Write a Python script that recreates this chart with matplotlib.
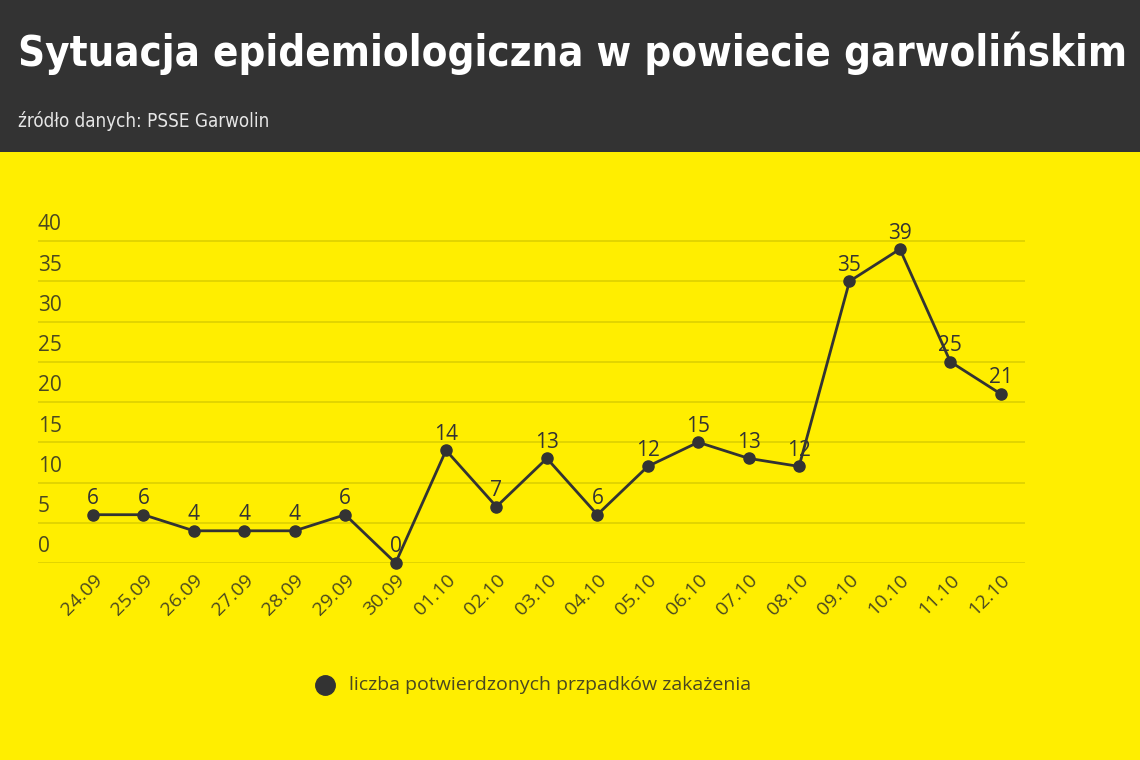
import matplotlib
matplotlib.use("Agg")
import matplotlib.pyplot as plt
from matplotlib.patches import Rectangle

# data
dates = ['24.09', '25.09', '26.09', '27.09', '28.09', '29.09', '30.09', '01.10', '02.10',
         '03.10', '04.10', '05.10', '06.10', '07.10', '08.10', '09.10', '10.10', '11.10', '12.10']
cases = [6, 6, 4, 4, 4, 6, 0, 14, 7, 13, 6, 12, 15, 13, 12, 35, 39, 25, 21]
y_ticks = [0, 5, 10, 15, 20, 25, 30, 35, 40]
title = 'Sytuacja epidemiologiczna w powiecie garwolińskim'
subtitle = 'źródło danych: PSSE Garwolin'
legend_label = 'liczba potwierdzonych przpadków zakażenia'

yellow = '#ffee00'
dark = '#333333'
txt = '#4a4820'
W, H = 1140, 760

fig = plt.figure(figsize=(11.4, 7.6), dpi=100)
fig.patch.set_facecolor(yellow)

# dark header band
fig.patches.append(Rectangle((0, 1 - 152 / H), 1, 152 / H, transform=fig.transFigure,
                             facecolor=dark, edgecolor='none', zorder=0))
t = fig.text(18 / W, 1 - 66 / H, title, color='white', fontsize=40, fontweight='bold',
             family='DejaVu Sans', fontstretch='condensed', va='baseline', ha='left')
# shrink the title until it fits the width of the reference header
fig.canvas.draw()
w = t.get_window_extent().width
if w > 1107:
    t.set_fontsize(40 * 1107 / w)
fig.text(18 / W, 1 - 127 / H, subtitle, color='#e6e6e6', fontsize=13.5,
         family='DejaVu Sans', fontstretch='condensed', va='baseline', ha='left')

# axes: left 38px, right 1025px, bottom 563px, top 235px
ax = fig.add_axes([38 / W, 1 - 563 / H, (1025 - 38) / W, (563 - 235) / H])
ax.set_facecolor('none')
x = list(range(len(dates)))
ax.set_xlim(-1.09, len(dates) - 1 + 0.48)
ax.set_ylim(0, 40.75)

for v in y_ticks:
    ax.axhline(v, color='#ddd000', lw=1.2, zorder=1)
    ax.annotate(str(v), xy=(0, v), xycoords=('axes fraction', 'data'),
                xytext=(0, 4), textcoords='offset points', ha='left', va='bottom',
                fontsize=15, color=txt, family='Open Sans')

ax.plot(x, cases, color=dark, lw=2, marker='o', markersize=8, zorder=3, clip_on=False)
for xi, v in zip(x, cases):
    ax.annotate(str(v), xy=(xi, v), xytext=(0, 4), textcoords='offset points',
                ha='center', va='bottom', fontsize=15, color=dark, family='Open Sans', zorder=4)

ax.set_xticks(x)
ax.set_xticklabels(dates, rotation=45, ha='right', rotation_mode='anchor',
                   fontsize=14, color=txt, family='Open Sans')
ax.tick_params(axis='x', length=0, pad=6)
ax.set_yticks([])
for s in ax.spines.values():
    s.set_visible(False)

# legend
fig.lines.append(plt.Line2D([325 / W], [1 - 685 / H], transform=fig.transFigure,
                            marker='o', markersize=14, color=dark, linestyle='none'))
fig.text(349 / W, 1 - 685 / H, legend_label, fontsize=14, color=txt,
         family='Open Sans', va='center', ha='left')

fig.savefig('out.png', dpi=100, facecolor=yellow)
